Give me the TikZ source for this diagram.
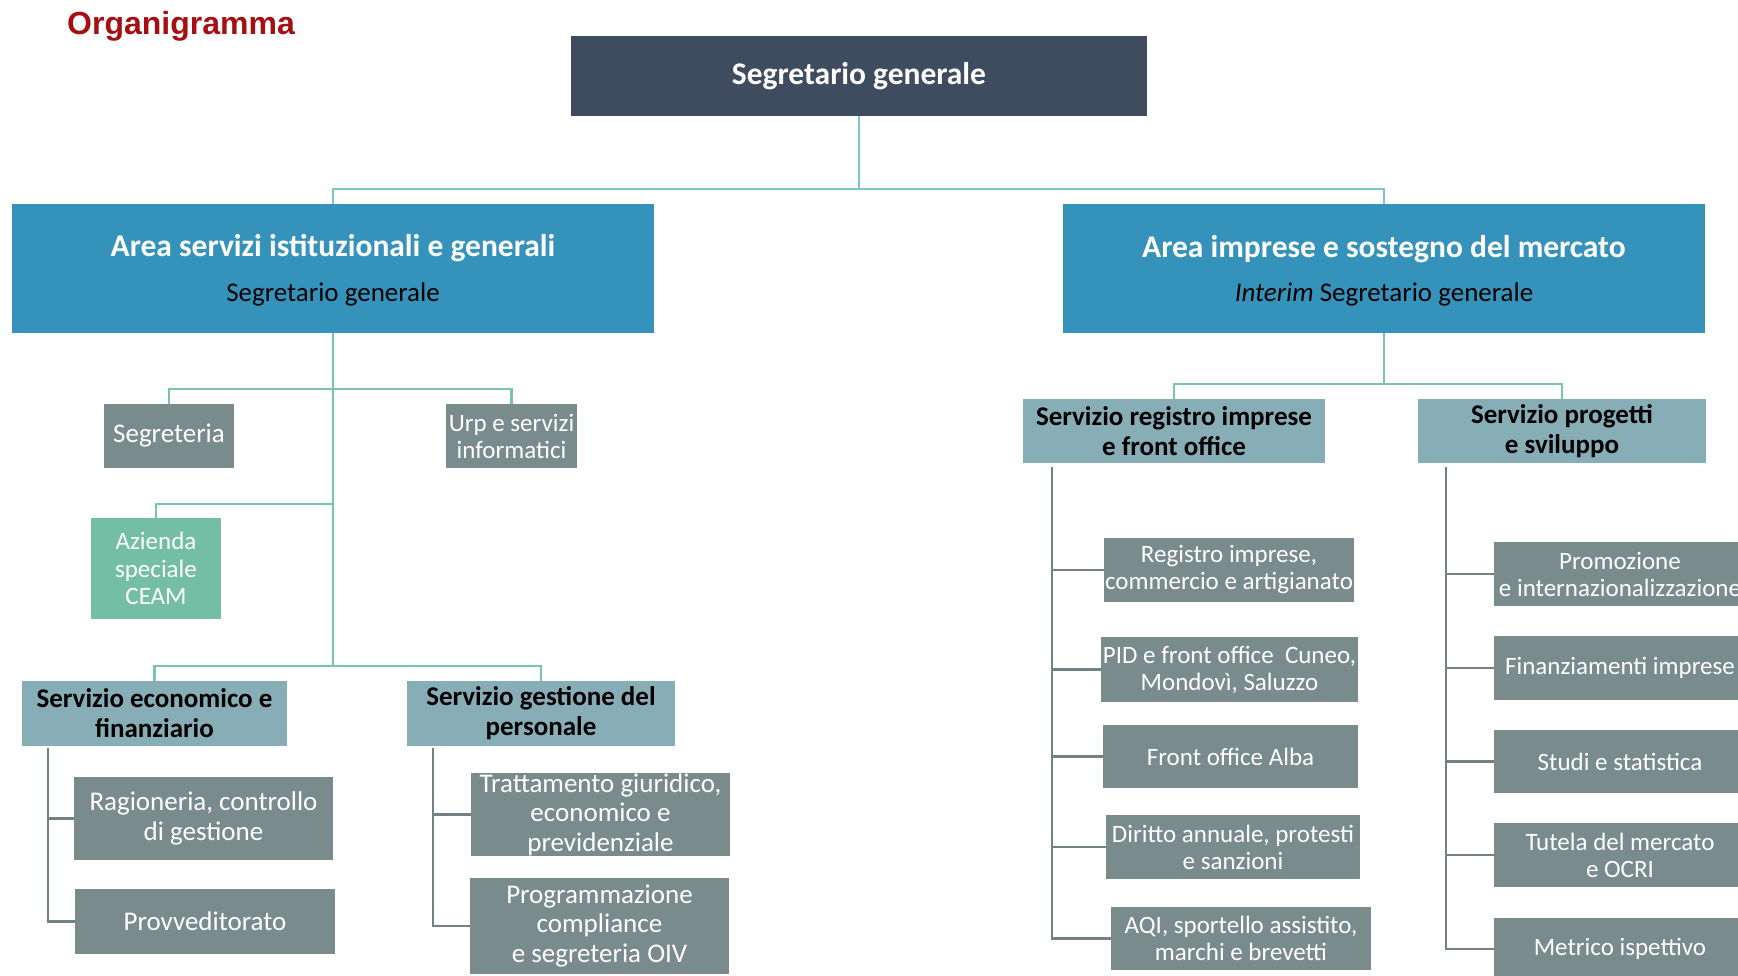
\documentclass[tikz,border=0pt]{standalone}
\usepackage{fontspec}
\setmainfont{Carlito}
\newfontfamily\titlefont{Liberation Sans}
\definecolor{topc}{HTML}{3F4B5E}
\definecolor{areac}{HTML}{3593BB}
\definecolor{servc}{HTML}{87ADB7}
\definecolor{leafc}{HTML}{7A8B8C}
\definecolor{azic}{HTML}{74BEA5}
\definecolor{linecyan}{HTML}{7CC5CC}
\definecolor{linegreen}{HTML}{7BC4AA}
\definecolor{linegray}{HTML}{728284}
\definecolor{titlered}{HTML}{A50F12}
\tikzset{
  wh/.style 2 args={minimum width=#1pt, minimum height=#2pt},
  boxbase/.style={rectangle, inner sep=0pt, align=center},
  topbox/.style={boxbase, fill=topc, text=white, font=\fontsize{31.5}{34}\selectfont\bfseries},
  areabox/.style={boxbase, fill=areac},
  areatitle/.style={text=white, inner sep=0pt, font=\fontsize{31.5}{34}\selectfont\bfseries},
  areasub/.style={text=black, inner sep=0pt, font=\fontsize{27}{30}\selectfont},
  servbox/.style={boxbase, fill=servc, text=black, font=\fontsize{27}{30}\selectfont\bfseries},
  leafbox/.style={boxbase, fill=leafc, text=white, font=\fontsize{25}{27}\selectfont},
  bigleaf/.style={boxbase, fill=leafc, text=white, font=\fontsize{27}{29.5}\selectfont},
  azibox/.style={boxbase, fill=azic, text=white, font=\fontsize{25}{27.5}\selectfont},
  lcyan/.style={draw=linecyan, line width=2.5pt},
  lgreen/.style={draw=linegreen, line width=2.8pt},
  lgray/.style={draw=linegray, line width=2.8pt},
}
\begin{document}
\begin{tikzpicture}[x=1pt,y=-1pt]
\useasboundingbox (0,0) rectangle (1738,976);
\clip (0,0) rectangle (1738,976);
\fill[white] (0,0) rectangle (1738,976);

% title
\node[anchor=base west, inner sep=0pt, text=titlered, font=\titlefont\fontsize{32}{34}\selectfont\bfseries] (title) at (67,35) {Organigramma};

% top
\node[topbox, wh={576}{80}] (top) at (859,76) {Segretario generale};

% areas
\node[areabox, wh={642}{129}] (areaL) at (333,268.5) {};
\node[areatitle] (areaLt) at (333,248.5) {Area servizi istituzionali e generali};
\node[areasub] (areaLs) at (333,294.5) {Segretario generale};
\node[areabox, wh={642}{129}] (areaR) at (1384,268.5) {};
\node[areatitle] (areaRt) at (1384,249.5) {Area imprese e sostegno del mercato};
\node[areasub] (areaRs) at (1384,294.5) {\textit{Interim} Segretario generale};

\coordinate (j0) at (859,189);
\draw[lcyan] (top.south) -- (j0);
\draw[lcyan] (areaL.north) |- (j0) -| (areaR.north);

% left tree
\node[leafbox, wh={130}{64}, font=\fontsize{27}{29}\selectfont] (seg) at (169,436) {Segreteria};
\node[leafbox, wh={131}{64}] (urp) at (511.5,436) {Urp e servizi\\informatici};
\node[azibox, wh={130}{101}] (azi) at (156,568.5) {Azienda\\speciale\\CEAM};
\node[servbox, wh={265}{65}] (sef) at (154.5,713.5) {Servizio economico e\\finanziario};
\node[servbox, wh={268}{65}] (sgp) at (541,713.5) {Servizio gestione del\\personale};

\coordinate (jl1) at (333,389);
\coordinate (jl2) at (333,504);
\coordinate (jl3) at (333,666);
\draw[lgreen] (areaL.south) -- (jl3);
\draw[lgreen] (seg.north) |- (jl1) -| (urp.north);
\draw[lgreen] (azi.north) |- (jl2);
\draw[lgreen] (sef.north) |- (jl3) -| (sgp.north);

\node[bigleaf, wh={259}{83}] (rag) at (203.5,818.5) {Ragioneria, controllo\\di gestione};
\node[bigleaf, wh={260}{65}] (prov) at (205,921.5) {Provveditorato};
\node[bigleaf, wh={259}{83}] (tra) at (600.5,814.5) {Trattamento giuridico,\\economico e\\previdenziale};
\node[bigleaf, wh={259}{96}] (prog) at (599.5,926) {Programmazione\\compliance\\e segreteria OIV};

\coordinate (e0) at (48,748);
\draw[lgray] (e0) |- (rag.west);
\draw[lgray] (e0) |- (prov.west);
\coordinate (g0) at (433,748);
\draw[lgray] (g0) |- (tra.west);
\draw[lgray] (g0) |- (prog.west);

% right tree
\node[servbox, wh={302}{64}] (sri) at (1174,431) {Servizio registro imprese\\e front office};
\node[servbox, wh={288}{64}] (spr) at (1562,431) {Servizio progetti\\e sviluppo};
\coordinate (jr1) at (1384,384);
\draw[lgreen] (areaR.south) -- (jr1);
\draw[lgreen] (sri.north) |- (jr1) -| (spr.north);

\node[leafbox, wh={250}{64}] (l1) at (1229,570) {Registro imprese,\\commercio e artigianato};
\node[leafbox, wh={257}{65}] (l2) at (1229.5,669.5) {PID e front office\ \ Cuneo,\\Mondovì, Saluzzo};
\node[leafbox, wh={255}{63}] (l3) at (1230.5,756.5) {Front office Alba};
\node[leafbox, wh={254}{64}] (l4) at (1233,847) {Diritto annuale, protesti\\e sanzioni};
\node[leafbox, wh={260}{63}] (l5) at (1241,938.5) {AQI, sportello assistito,\\marchi e brevetti};

\coordinate (s0) at (1052,467);
\foreach \n in {l1,l2,l3,l4,l5} {\draw[lgray] (s0) |- (\n.west);}

\node[leafbox, wh={252}{64}] (r1) at (1620,574) {Promozione\\e internazionalizzazione};
\node[leafbox, wh={252}{64}] (r2) at (1620,668) {Finanziamenti imprese};
\node[leafbox, wh={252}{63}] (r3) at (1620,761.5) {Studi e statistica};
\node[leafbox, wh={252}{64}] (r4) at (1620,855) {Tutela del mercato\\e OCRI};
\node[leafbox, wh={252}{62}] (r5) at (1620,949) {Metrico ispettivo};

\coordinate (p0) at (1446,467);
\foreach \n in {r1,r2,r3,r4,r5} {\draw[lgray] (p0) |- (\n.west);}
\end{tikzpicture}
\end{document}
